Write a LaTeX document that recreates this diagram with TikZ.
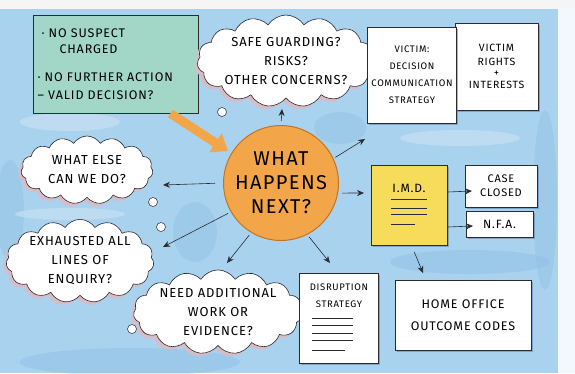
\documentclass[tikz,border=0pt]{standalone}
\usepackage{fontspec}
\setmainfont{Fira Sans}
\newfontfamily\hand[LetterSpace=7]{Fira Sans}
\usetikzlibrary{shapes.symbols,arrows.meta,shadows}
\definecolor{bgblue}{HTML}{A9D2EE}
\definecolor{bgdark}{HTML}{86BAE4}
\definecolor{bglight}{HTML}{CFE6F6}
\definecolor{greenfill}{HTML}{A2D7C8}
\definecolor{orangefill}{HTML}{F3A54A}
\definecolor{orangeedge}{HTML}{C27420}
\definecolor{yellowfill}{HTML}{F7DC5C}
\definecolor{pinkshadow}{HTML}{D7BCC6}
\definecolor{ink}{HTML}{2A2A33}
\definecolor{boxshadow}{HTML}{5F86B8}
\begin{document}
\begin{tikzpicture}[x=1pt,y=-1pt,
  cl/.style={cloud, cloud puffs=15, cloud puff arc=115, cloud ignores aspect, draw=ink, fill=white,
    line width=0.6pt, inner sep=0pt, align=center, font=\hand\fontsize{13}{19}\selectfont,
    general shadow={fill=pinkshadow, shadow xshift=-3pt, shadow yshift=-3pt}},
  puff/.style={circle, draw=ink, fill=white, line width=0.5pt, minimum size=9pt, inner sep=0pt},
  box/.style={rectangle, draw=ink, fill=white, line width=0.7pt, align=center,
    font=\hand\fontsize{9.5}{17}\selectfont, inner sep=0pt,
    general shadow={fill=boxshadow, opacity=0.6, shadow xshift=1.5pt, shadow yshift=-2pt}},
  arr/.style={-{Stealth[length=7pt,width=6pt]}, draw=ink, line width=0.6pt},
  bigarr/.style={-{Triangle[length=15pt,width=22pt]}, draw=orangefill, line width=9pt}
]
\useasboundingbox (0,0) rectangle (575,373);
% background
\fill[gray!8] (0,0) rectangle (575,9);
\fill[bgblue] (0,9) rectangle (575,373);
\fill[bgdark, opacity=0.35] (130,362) ellipse [x radius=110, y radius=14];
\fill[bgdark, opacity=0.35] (470,262) ellipse [x radius=80, y radius=12];
\fill[bgdark, opacity=0.3] (545,200) ellipse [x radius=12, y radius=90];
\fill[bgdark, opacity=0.3] (340,128) ellipse [x radius=26, y radius=16];
\fill[bgdark, opacity=0.3] (195,232) ellipse [x radius=22, y radius=30];
\fill[bgdark, opacity=0.3] (10,210) ellipse [x radius=14, y radius=50];
\fill[bglight, opacity=0.55] (70,122) ellipse [x radius=50, y radius=9];
\fill[bglight, opacity=0.55] (460,138) ellipse [x radius=60, y radius=8];
\fill[bglight, opacity=0.55] (70,214) ellipse [x radius=55, y radius=6];
\fill[white, opacity=0.85] (558,9) rectangle (575,373);

% green box
\node[rectangle, draw=ink, fill=greenfill, line width=0.8pt, minimum width=165pt, minimum height=98pt,
  text width=156pt, align=left, font=\hand\fontsize{12.5}{17}\selectfont, inner sep=0pt] (green) at (115.5,64)
  {\hspace*{4pt}· NO SUSPECT\\[-1pt]\hspace*{22pt}CHARGED\\[11pt]· NO FURTHER ACTION\\[1pt]– VALID DECISION?};

% clouds
\node[cl, minimum width=150pt, minimum height=92pt] (ctop) at (286,61) {SAFE GUARDING?\\RISKS?\\OTHER CONCERNS?};
\node[cl, minimum width=132pt, minimum height=68pt] (celse) at (87,170) {WHAT ELSE\\CAN WE DO?};
\node[cl, minimum width=144pt, minimum height=82pt] (cexh) at (80,261) {EXHAUSTED ALL\\LINES OF\\ENQUIRY?};
\node[cl, minimum width=150pt, minimum height=82pt] (cneed) at (218,312) {NEED ADDITIONAL\\WORK OR\\EVIDENCE?};
\node[puff] (p1) at (222,112) {};
\node[puff] (p2) at (153,202) {};
\node[puff] (p3) at (161,227) {};
\node[puff] (p4) at (132,329) {};

% boxes
\node[box, minimum width=83pt, minimum height=87pt, font=\hand\fontsize{10.5}{17}\selectfont] (v2) at (496.5,66.5) {VICTIM\\[-3pt]RIGHTS\\[-6pt]+\\[-5pt]INTERESTS};
\node[box, minimum width=89pt, minimum height=96pt] (v1) at (412,75) {VICTIM:\\DECISION\\COMMUNICATION\\STRATEGY};
\node[box, fill=yellowfill, minimum width=76pt, minimum height=80pt] (imd) at (409.5,205) {};
\node[font=\hand\fontsize{12}{13}\selectfont, inner sep=0pt] (imdt) at (409,188) {I.M.D.};
\draw[ink, line width=0.6pt] (391,199) -- (427,199) (391,208) -- (427,208) (391,214) -- (427,214) (391,224) -- (415,224);
\node[box, minimum width=72pt, minimum height=42pt, font=\hand\fontsize{11}{14}\selectfont] (cc) at (501,186) {CASE\\CLOSED};
\node[box, minimum width=67pt, minimum height=26pt, font=\hand\fontsize{12}{13}\selectfont] (nfa) at (499.5,224) {N.F.A.};
\node[box, minimum width=136pt, minimum height=70pt, font=\hand\fontsize{12.5}{22}\selectfont] (home) at (463,315) {HOME OFFICE\\OUTCOME CODES};
\node[box, minimum width=79pt, minimum height=90pt] (dis) at (339,318) {};
\node[font=\hand\fontsize{9.5}{17}\selectfont, align=center, inner sep=0pt] (dist) at (339,296) {DISRUPTION\\STRATEGY};
\draw[ink, line width=0.6pt] (312,318) -- (353,318) (312,325) -- (353,325) (312,333) -- (353,333) (312,340) -- (353,340) (312,350) -- (345,350);

% circle
\node[circle, draw=orangeedge, fill=orangefill, line width=1pt, minimum size=115pt, align=center,
  font=\hand\fontsize{20}{24}\selectfont, inner sep=0pt] (c) at (281,183) {WHAT\\HAPPENS\\NEXT?};

% big orange arrow
\coordinate (oend) at (228,151);
\draw[bigarr] ([xshift=-28pt]green.south east) -- (oend);

% connectors
\coordinate (etop) at (282,109);
\coordinate (ev) at (365,139);
\coordinate (eimd) at (364,193);
\coordinate (edis) at (330,263);
\coordinate (eneed) at (227,263);
\coordinate (eexh) at (163,247);
\coordinate (eelse) at (163,185);
\coordinate (ecc) at (472,191);
\coordinate (enfa) at (473,226);
\coordinate (ehome) at (423,273);
\draw[arr, shorten <=4pt] (c.north) -- (etop);
\draw[arr, shorten <=2pt] (c.25) -- (ev);
\draw[arr, shorten <=4pt] (c.-10) -- (eimd);
\draw[arr, shorten <=3pt] (c.-63) -- (edis);
\draw[arr, shorten <=3pt] (c.-121) -- (eneed);
\draw[arr, shorten <=3pt] (c.-150) -- (eexh);
\draw[arr, shorten <=8pt] (c.west) -- (eelse);
\draw[arr] ([yshift=13pt]imd.east) -- (ecc);
\draw[arr] ([yshift=-22pt]imd.east) -- (enfa);
\draw[arr, shorten <=7pt] ([xshift=2pt]imd.south) -- (ehome);
\end{tikzpicture}
\end{document}
